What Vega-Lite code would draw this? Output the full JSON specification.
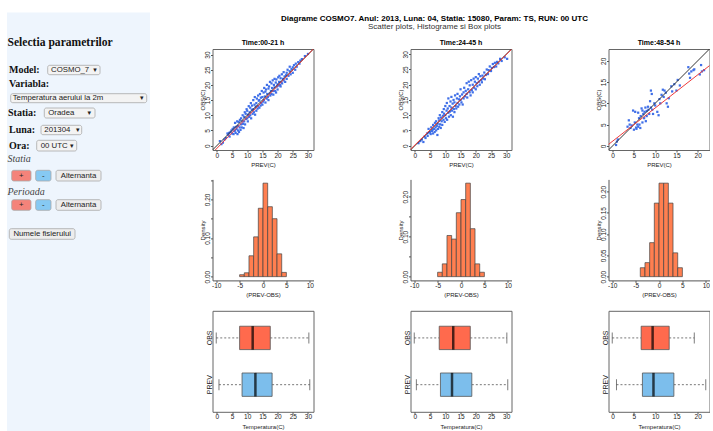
{
"$schema":"https://vega.github.io/schema/vega-lite/v6.json",
"background":"white",
"padding":{"left":7,"top":10,"right":0,"bottom":0},
"spacing":48.5,
"datasets":{
"formBox":[
{"kind":"bg","x0":0,"x1":143,"y0":0.5,"y1":421},
{"kind":"select","x0":40.7,"x1":93,"y0":53.3,"y1":62.7},
{"kind":"select","x0":3.7,"x1":139.7,"y0":81.7,"y1":90.7},
{"kind":"select","x0":37.3,"x1":88,"y0":96,"y1":106},
{"kind":"select","x0":34,"x1":74.7,"y0":113.3,"y1":122.7},
{"kind":"select","x0":29.7,"x1":69.7,"y0":128.3,"y1":139},
{"kind":"plus","x0":4.7,"x1":24,"y0":158.3,"y1":169},
{"kind":"minus","x0":28.7,"x1":44,"y0":158.3,"y1":169},
{"kind":"button","x0":49,"x1":94,"y0":158.3,"y1":169},
{"kind":"plus","x0":4.7,"x1":24,"y0":187.7,"y1":198.3},
{"kind":"minus","x0":28.7,"x1":44,"y0":187.7,"y1":198.3},
{"kind":"button","x0":49,"x1":94,"y0":187.7,"y1":198.3},
{"kind":"button","x0":2.3,"x1":68,"y0":216.7,"y1":227.3}
],
"formText":[
{"kind":"heading","t":"Selectia parametrilor","x":0.5,"y":31},
{"kind":"label","t":"Model:","x":2,"y":57.5},
{"kind":"label","t":"Variabla:","x":2,"y":71.5},
{"kind":"label","t":"Statia:","x":1,"y":101},
{"kind":"label","t":"Luna:","x":2,"y":117.5},
{"kind":"label","t":"Ora:","x":2,"y":134},
{"kind":"italic","t":"Statia","x":0.5,"y":147},
{"kind":"italic","t":"Perioada","x":0.5,"y":179.5},
{"kind":"ctrl","t":"COSMO_7","x":44,"y":58.2},
{"kind":"ctrl","t":"Temperatura aerului la 2m","x":5.7,"y":86.4},
{"kind":"ctrl","t":"Oradea","x":41.3,"y":101.2},
{"kind":"ctrl","t":"201304","x":37.3,"y":118.2},
{"kind":"ctrl","t":"00 UTC","x":33.7,"y":133.8},
{"kind":"arrow","t":"▾","x":88,"y":58},
{"kind":"arrow","t":"▾","x":134.7,"y":86.2},
{"kind":"arrow","t":"▾","x":82.3,"y":101},
{"kind":"arrow","t":"▾","x":70.7,"y":118},
{"kind":"arrow","t":"▾","x":64.7,"y":133.6},
{"kind":"btn","t":"+","x":14.3,"y":163.8},
{"kind":"btn","t":"-","x":36.3,"y":163.8},
{"kind":"btn","t":"Alternanta","x":71.5,"y":163.8},
{"kind":"btn","t":"+","x":14.3,"y":193.2},
{"kind":"btn","t":"-","x":36.3,"y":193.2},
{"kind":"btn","t":"Alternanta","x":71.5,"y":193.2},
{"kind":"btn","t":"Numele fisierului","x":35.2,"y":222.2}
],
"lines":[
{"panel":1,"kind":"ident","xa":-5,"ya":-5,"xb":40,"yb":40},
{"panel":1,"kind":"fit","xa":-5,"ya":-6.05,"xb":40,"yb":40.3},
{"panel":2,"kind":"ident","xa":-5,"ya":-5,"xb":40,"yb":40},
{"panel":2,"kind":"fit","xa":-5,"ya":-4.75,"xb":40,"yb":39.8},
{"panel":3,"kind":"ident","xa":-5,"ya":-5,"xb":40,"yb":40},
{"panel":3,"kind":"fit","xa":-5,"ya":-2.8,"xb":40,"yb":32.3}
],
"hist":[
{"panel":1,"lo":-5,"hi":-4,"density":0.005},{"panel":1,"lo":-4,"hi":-3,"density":0.01},{"panel":1,"lo":-3,"hi":-2,"density":0.054},{"panel":1,"lo":-2,"hi":-1,"density":0.103},{"panel":1,"lo":-1,"hi":0,"density":0.177},{"panel":1,"lo":0,"hi":1,"density":0.242},{"panel":1,"lo":1,"hi":2,"density":0.181},{"panel":1,"lo":2,"hi":3,"density":0.15},{"panel":1,"lo":3,"hi":4,"density":0.059},{"panel":1,"lo":4,"hi":5,"density":0.011},
{"panel":2,"lo":-5,"hi":-4,"density":0.011},{"panel":2,"lo":-4,"hi":-3,"density":0.032},{"panel":2,"lo":-3,"hi":-2,"density":0.103},{"panel":2,"lo":-2,"hi":-1,"density":0.094},{"panel":2,"lo":-1,"hi":0,"density":0.16},{"panel":2,"lo":0,"hi":1,"density":0.193},{"panel":2,"lo":1,"hi":2,"density":0.234},{"panel":2,"lo":2,"hi":3,"density":0.12},{"panel":2,"lo":3,"hi":4,"density":0.032},{"panel":2,"lo":4,"hi":5,"density":0.011},
{"panel":3,"lo":-4,"hi":-3,"density":0.021},{"panel":3,"lo":-3,"hi":-2,"density":0.033},{"panel":3,"lo":-2,"hi":-1,"density":0.08},{"panel":3,"lo":-1,"hi":0,"density":0.173},{"panel":3,"lo":0,"hi":1,"density":0.22},{"panel":3,"lo":1,"hi":2,"density":0.22},{"panel":3,"lo":2,"hi":3,"density":0.173},{"panel":3,"lo":3,"hi":4,"density":0.056},{"panel":3,"lo":4,"hi":5,"density":0.021}
],
"box":[
{"panel":1,"var":"OBS","min":-0.2,"q1":7.5,"med":11.8,"q3":17.6,"max":30.3},
{"panel":1,"var":"PREV","min":0.7,"q1":8.3,"med":12.7,"q3":18.2,"max":30.6},
{"panel":2,"var":"OBS","min":-0.2,"q1":8.0,"med":12.6,"q3":18.2,"max":30.2},
{"panel":2,"var":"PREV","min":0.5,"q1":8.4,"med":12.2,"q3":18.7,"max":30.5},
{"panel":3,"var":"OBS","min":-0.1,"q1":6.7,"med":9.4,"q3":13.3,"max":19.2},
{"panel":3,"var":"PREV","min":0.9,"q1":7.0,"med":9.6,"q3":14.4,"max":21.9}
],
"scatter":[
{"panel":1,"prev":1,"obs":1.5},{"panel":1,"prev":1.5,"obs":0.5},{"panel":1,"prev":2,"obs":1},{"panel":1,"prev":2.5,"obs":2},{"panel":1,"prev":3,"obs":2.5},{"panel":1,"prev":3.5,"obs":4},{"panel":1,"prev":3.8,"obs":3.5},{"panel":1,"prev":4,"obs":4.2},{"panel":1,"prev":4.2,"obs":3},{"panel":1,"prev":4.5,"obs":4.5},{"panel":1,"prev":4.8,"obs":5},{"panel":1,"prev":5,"obs":4},{"panel":1,"prev":5.2,"obs":5.5},{"panel":1,"prev":5.5,"obs":3.8},{"panel":1,"prev":5.6,"obs":6},{"panel":1,"prev":5.8,"obs":4.8},{"panel":1,"prev":6,"obs":5},{"panel":1,"prev":6,"obs":7.5},{"panel":1,"prev":6.2,"obs":4.2},{"panel":1,"prev":6.4,"obs":6.2},{"panel":1,"prev":6.5,"obs":5.5},{"panel":1,"prev":6.7,"obs":8},{"panel":1,"prev":6.8,"obs":3.8},{"panel":1,"prev":7,"obs":6.5},{"panel":1,"prev":7,"obs":5},{"panel":1,"prev":7.2,"obs":7.8},{"panel":1,"prev":7.3,"obs":4.5},{"panel":1,"prev":7.5,"obs":6},{"panel":1,"prev":7.6,"obs":8.5},{"panel":1,"prev":7.8,"obs":5.2},{"panel":1,"prev":8,"obs":7},{"panel":1,"prev":8,"obs":9},{"panel":1,"prev":8.2,"obs":6},{"panel":1,"prev":8.4,"obs":8},{"panel":1,"prev":8.5,"obs":10},{"panel":1,"prev":8.6,"obs":7.2},{"panel":1,"prev":8.8,"obs":5.8},{"panel":1,"prev":9,"obs":9.5},{"panel":1,"prev":9,"obs":8},{"panel":1,"prev":9.2,"obs":11},{"panel":1,"prev":9.3,"obs":7},{"panel":1,"prev":9.5,"obs":10.5},{"panel":1,"prev":9.6,"obs":8.8},{"panel":1,"prev":9.8,"obs":12},{"panel":1,"prev":10,"obs":9},{"panel":1,"prev":10,"obs":11.5},{"panel":1,"prev":10.2,"obs":8},{"panel":1,"prev":10.3,"obs":10.2},{"panel":1,"prev":10.5,"obs":13},{"panel":1,"prev":10.6,"obs":9.5},{"panel":1,"prev":10.8,"obs":11},{"panel":1,"prev":11,"obs":10},{"panel":1,"prev":11,"obs":12.5},{"panel":1,"prev":11.2,"obs":14},{"panel":1,"prev":11.3,"obs":9},{"panel":1,"prev":11.5,"obs":11.8},{"panel":1,"prev":11.6,"obs":13.2},{"panel":1,"prev":11.8,"obs":10.5},{"panel":1,"prev":12,"obs":12},{"panel":1,"prev":12,"obs":15},{"panel":1,"prev":12.2,"obs":11},{"panel":1,"prev":12.4,"obs":13.5},{"panel":1,"prev":12.5,"obs":16},{"panel":1,"prev":12.6,"obs":10.2},{"panel":1,"prev":12.8,"obs":12.8},{"panel":1,"prev":13,"obs":14},{"panel":1,"prev":13,"obs":11.5},{"panel":1,"prev":13.2,"obs":15.5},{"panel":1,"prev":13.4,"obs":12.2},{"panel":1,"prev":13.5,"obs":13},{"panel":1,"prev":13.6,"obs":16.5},{"panel":1,"prev":13.8,"obs":14.8},{"panel":1,"prev":14,"obs":12.5},{"panel":1,"prev":14,"obs":15},{"panel":1,"prev":14.2,"obs":17},{"panel":1,"prev":14.4,"obs":13.2},{"panel":1,"prev":14.5,"obs":15.8},{"panel":1,"prev":14.6,"obs":14},{"panel":1,"prev":14.8,"obs":18},{"panel":1,"prev":15,"obs":13.5},{"panel":1,"prev":15,"obs":16},{"panel":1,"prev":15.2,"obs":14.5},{"panel":1,"prev":15.4,"obs":17.5},{"panel":1,"prev":15.5,"obs":15},{"panel":1,"prev":15.6,"obs":19},{"panel":1,"prev":15.8,"obs":16.2},{"panel":1,"prev":16,"obs":14.2},{"panel":1,"prev":16,"obs":17.8},{"panel":1,"prev":16.2,"obs":18.5},{"panel":1,"prev":16.4,"obs":15.5},{"panel":1,"prev":16.5,"obs":20},{"panel":1,"prev":16.6,"obs":17},{"panel":1,"prev":16.8,"obs":16},{"panel":1,"prev":17,"obs":18.8},{"panel":1,"prev":17,"obs":15},{"panel":1,"prev":17.2,"obs":19.5},{"panel":1,"prev":17.4,"obs":17.2},{"panel":1,"prev":17.5,"obs":21},{"panel":1,"prev":17.6,"obs":16.5},{"panel":1,"prev":17.8,"obs":18},{"panel":1,"prev":18,"obs":20.5},{"panel":1,"prev":18,"obs":17},{"panel":1,"prev":18.2,"obs":19},{"panel":1,"prev":18.4,"obs":21.5},{"panel":1,"prev":18.5,"obs":18},{"panel":1,"prev":18.6,"obs":16.8},{"panel":1,"prev":18.8,"obs":20},{"panel":1,"prev":19,"obs":19.2},{"panel":1,"prev":19,"obs":22},{"panel":1,"prev":19.2,"obs":18},{"panel":1,"prev":19.4,"obs":20.8},{"panel":1,"prev":19.5,"obs":17.5},{"panel":1,"prev":19.6,"obs":21.8},{"panel":1,"prev":19.8,"obs":19.5},{"panel":1,"prev":20,"obs":20.2},{"panel":1,"prev":20,"obs":18.5},{"panel":1,"prev":20.2,"obs":22.5},{"panel":1,"prev":20.4,"obs":19.8},{"panel":1,"prev":20.5,"obs":21},{"panel":1,"prev":20.6,"obs":23},{"panel":1,"prev":20.8,"obs":20},{"panel":1,"prev":21,"obs":19.5},{"panel":1,"prev":21,"obs":22.2},{"panel":1,"prev":21.2,"obs":21},{"panel":1,"prev":21.4,"obs":23.5},{"panel":1,"prev":21.5,"obs":20.5},{"panel":1,"prev":21.8,"obs":22},{"panel":1,"prev":22,"obs":21.5},{"panel":1,"prev":22,"obs":24.2},{"panel":1,"prev":22.3,"obs":22.8},{"panel":1,"prev":22.5,"obs":21},{"panel":1,"prev":22.8,"obs":23.2},{"panel":1,"prev":23,"obs":24},{"panel":1,"prev":23,"obs":22},{"panel":1,"prev":23.3,"obs":25},{"panel":1,"prev":23.6,"obs":23},{"panel":1,"prev":24,"obs":24.5},{"panel":1,"prev":24,"obs":26},{"panel":1,"prev":24.3,"obs":23.5},{"panel":1,"prev":24.6,"obs":25.2},{"panel":1,"prev":25,"obs":25.8},{"panel":1,"prev":25,"obs":24},{"panel":1,"prev":25.4,"obs":26.5},{"panel":1,"prev":25.8,"obs":25},{"panel":1,"prev":26,"obs":27},{"panel":1,"prev":26.3,"obs":26},{"panel":1,"prev":26.8,"obs":27.5},{"panel":1,"prev":27.2,"obs":27},{"panel":1,"prev":27.5,"obs":28},{"panel":1,"prev":28,"obs":28.5},{"panel":1,"prev":29,"obs":29.5},{"panel":1,"prev":30,"obs":30.2},
{"panel":2,"prev":1.2,"obs":0.8},{"panel":2,"prev":1.8,"obs":1.5},{"panel":2,"prev":2.3,"obs":2},{"panel":2,"prev":2.8,"obs":1.2},{"panel":2,"prev":3.2,"obs":3},{"panel":2,"prev":3.5,"obs":2.5},{"panel":2,"prev":4,"obs":4},{"panel":2,"prev":4.2,"obs":3.2},{"panel":2,"prev":4.5,"obs":5.5},{"panel":2,"prev":4.6,"obs":4.3},{"panel":2,"prev":5,"obs":4.5},{"panel":2,"prev":5.2,"obs":3.8},{"panel":2,"prev":5.4,"obs":6},{"panel":2,"prev":5.6,"obs":4.8},{"panel":2,"prev":5.8,"obs":5.2},{"panel":2,"prev":6,"obs":4},{"panel":2,"prev":6,"obs":6.8},{"panel":2,"prev":6.3,"obs":5.5},{"panel":2,"prev":6.5,"obs":4.5},{"panel":2,"prev":6.6,"obs":7.5},{"panel":2,"prev":6.8,"obs":6},{"panel":2,"prev":7,"obs":5},{"panel":2,"prev":7,"obs":8},{"panel":2,"prev":7.2,"obs":6.5},{"panel":2,"prev":7.4,"obs":3.5},{"panel":2,"prev":7.5,"obs":7.2},{"panel":2,"prev":7.6,"obs":5.5},{"panel":2,"prev":7.8,"obs":9},{"panel":2,"prev":8,"obs":6.2},{"panel":2,"prev":8,"obs":8.3},{"panel":2,"prev":8.2,"obs":10},{"panel":2,"prev":8.3,"obs":7},{"panel":2,"prev":8.5,"obs":5.8},{"panel":2,"prev":8.6,"obs":9.2},{"panel":2,"prev":8.8,"obs":8},{"panel":2,"prev":9,"obs":11},{"panel":2,"prev":9,"obs":6.8},{"panel":2,"prev":9.2,"obs":9.8},{"panel":2,"prev":9.4,"obs":8.5},{"panel":2,"prev":9.5,"obs":12},{"panel":2,"prev":9.6,"obs":10.5},{"panel":2,"prev":9.8,"obs":7.8},{"panel":2,"prev":10,"obs":10},{"panel":2,"prev":10,"obs":13},{"panel":2,"prev":10.2,"obs":9},{"panel":2,"prev":10.4,"obs":11.5},{"panel":2,"prev":10.5,"obs":14},{"panel":2,"prev":10.6,"obs":8.5},{"panel":2,"prev":10.8,"obs":12.2},{"panel":2,"prev":11,"obs":10.8},{"panel":2,"prev":11,"obs":15.5},{"panel":2,"prev":11.2,"obs":9.5},{"panel":2,"prev":11.4,"obs":13},{"panel":2,"prev":11.5,"obs":11.2},{"panel":2,"prev":11.7,"obs":14.5},{"panel":2,"prev":11.8,"obs":10},{"panel":2,"prev":12,"obs":12.5},{"panel":2,"prev":12,"obs":16},{"panel":2,"prev":12.2,"obs":11.5},{"panel":2,"prev":12.4,"obs":13.8},{"panel":2,"prev":12.5,"obs":9.5},{"panel":2,"prev":12.7,"obs":15},{"panel":2,"prev":12.8,"obs":12},{"panel":2,"prev":13,"obs":14.2},{"panel":2,"prev":13,"obs":11},{"panel":2,"prev":13.2,"obs":16.5},{"panel":2,"prev":13.4,"obs":13},{"panel":2,"prev":13.6,"obs":12.2},{"panel":2,"prev":13.8,"obs":15.5},{"panel":2,"prev":14,"obs":14},{"panel":2,"prev":14,"obs":17},{"panel":2,"prev":14.2,"obs":12.8},{"panel":2,"prev":14.5,"obs":15.2},{"panel":2,"prev":14.6,"obs":13.5},{"panel":2,"prev":14.8,"obs":16.2},{"panel":2,"prev":15,"obs":15},{"panel":2,"prev":15,"obs":18.5},{"panel":2,"prev":15.3,"obs":14.2},{"panel":2,"prev":15.5,"obs":16.8},{"panel":2,"prev":15.7,"obs":13.5},{"panel":2,"prev":16,"obs":17.5},{"panel":2,"prev":16,"obs":15.5},{"panel":2,"prev":16.2,"obs":19},{"panel":2,"prev":16.5,"obs":16.2},{"panel":2,"prev":16.7,"obs":18},{"panel":2,"prev":17,"obs":17},{"panel":2,"prev":17,"obs":20.5},{"panel":2,"prev":17.2,"obs":15.8},{"panel":2,"prev":17.5,"obs":18.5},{"panel":2,"prev":17.7,"obs":21},{"panel":2,"prev":18,"obs":17.5},{"panel":2,"prev":18,"obs":19.8},{"panel":2,"prev":18.3,"obs":16.5},{"panel":2,"prev":18.5,"obs":21.5},{"panel":2,"prev":18.7,"obs":18.2},{"panel":2,"prev":19,"obs":20},{"panel":2,"prev":19,"obs":17.5},{"panel":2,"prev":19.3,"obs":22},{"panel":2,"prev":19.5,"obs":19},{"panel":2,"prev":19.7,"obs":21},{"panel":2,"prev":20,"obs":18.5},{"panel":2,"prev":20,"obs":22.5},{"panel":2,"prev":20.3,"obs":20.5},{"panel":2,"prev":20.5,"obs":19.5},{"panel":2,"prev":20.7,"obs":22},{"panel":2,"prev":21,"obs":21},{"panel":2,"prev":21,"obs":23.5},{"panel":2,"prev":21.3,"obs":20},{"panel":2,"prev":21.5,"obs":22.8},{"panel":2,"prev":21.8,"obs":21.5},{"panel":2,"prev":22,"obs":20.8},{"panel":2,"prev":22.2,"obs":23},{"panel":2,"prev":22.5,"obs":22},{"panel":2,"prev":22.8,"obs":24},{"panel":2,"prev":23,"obs":21.8},{"panel":2,"prev":23.3,"obs":23.2},{"panel":2,"prev":23.6,"obs":25},{"panel":2,"prev":24,"obs":23.5},{"panel":2,"prev":24.2,"obs":24.8},{"panel":2,"prev":24.6,"obs":26},{"panel":2,"prev":25,"obs":24.5},{"panel":2,"prev":25.3,"obs":25.5},{"panel":2,"prev":25.6,"obs":26.8},{"panel":2,"prev":26,"obs":25.8},{"panel":2,"prev":26.3,"obs":27.2},{"panel":2,"prev":26.7,"obs":26},{"panel":2,"prev":27,"obs":27.5},{"panel":2,"prev":27.4,"obs":27},{"panel":2,"prev":28,"obs":28.5},{"panel":2,"prev":28.5,"obs":27.8},{"panel":2,"prev":29.5,"obs":29},{"panel":2,"prev":30.3,"obs":28.5},
{"panel":3,"prev":0.8,"obs":0.2},{"panel":3,"prev":1,"obs":1},{"panel":3,"prev":1.2,"obs":1.5},{"panel":3,"prev":3.5,"obs":4.5},{"panel":3,"prev":3.8,"obs":6},{"panel":3,"prev":4,"obs":5},{"panel":3,"prev":4.2,"obs":4.2},{"panel":3,"prev":4.5,"obs":4.8},{"panel":3,"prev":4.8,"obs":8.3},{"panel":3,"prev":5,"obs":3.8},{"panel":3,"prev":5.2,"obs":5.5},{"panel":3,"prev":5.3,"obs":8},{"panel":3,"prev":5.5,"obs":4.3},{"panel":3,"prev":5.6,"obs":4},{"panel":3,"prev":5.8,"obs":5},{"panel":3,"prev":6,"obs":4.5},{"panel":3,"prev":6,"obs":7.8},{"panel":3,"prev":6.2,"obs":6.5},{"panel":3,"prev":6.3,"obs":5},{"panel":3,"prev":6.5,"obs":4.2},{"panel":3,"prev":6.6,"obs":7},{"panel":3,"prev":6.8,"obs":8.8},{"panel":3,"prev":7,"obs":5.5},{"panel":3,"prev":7,"obs":8.3},{"panel":3,"prev":7.2,"obs":7.5},{"panel":3,"prev":7.4,"obs":6.5},{"panel":3,"prev":7.5,"obs":8},{"panel":3,"prev":7.7,"obs":9},{"panel":3,"prev":7.8,"obs":5.8},{"panel":3,"prev":8,"obs":8.2},{"panel":3,"prev":8,"obs":7},{"panel":3,"prev":8.3,"obs":9.2},{"panel":3,"prev":8.4,"obs":8.5},{"panel":3,"prev":8.6,"obs":7.5},{"panel":3,"prev":8.8,"obs":10.5},{"panel":3,"prev":9,"obs":13},{"panel":3,"prev":9,"obs":9},{"panel":3,"prev":9.2,"obs":12.2},{"panel":3,"prev":9.3,"obs":8.5},{"panel":3,"prev":9.5,"obs":7.5},{"panel":3,"prev":9.8,"obs":10},{"panel":3,"prev":10,"obs":9.5},{"panel":3,"prev":10.5,"obs":8},{"panel":3,"prev":10.8,"obs":7.2},{"panel":3,"prev":11,"obs":11},{"panel":3,"prev":11.2,"obs":10},{"panel":3,"prev":11.5,"obs":12},{"panel":3,"prev":11.8,"obs":13.2},{"panel":3,"prev":12,"obs":11.5},{"panel":3,"prev":12.2,"obs":13},{"panel":3,"prev":12.5,"obs":12.5},{"panel":3,"prev":12.7,"obs":10},{"panel":3,"prev":13,"obs":9.2},{"panel":3,"prev":13.2,"obs":11.2},{"panel":3,"prev":13.8,"obs":14},{"panel":3,"prev":14,"obs":12.8},{"panel":3,"prev":14.5,"obs":14.5},{"panel":3,"prev":15,"obs":13},{"panel":3,"prev":15.3,"obs":15.5},{"panel":3,"prev":15.8,"obs":14.2},{"panel":3,"prev":17.8,"obs":18.5},{"panel":3,"prev":18,"obs":17},{"panel":3,"prev":18.2,"obs":16},{"panel":3,"prev":18.5,"obs":17.5},{"panel":3,"prev":19,"obs":17.8},{"panel":3,"prev":19.2,"obs":18},{"panel":3,"prev":20.5,"obs":16.8},{"panel":3,"prev":20.8,"obs":19},{"panel":3,"prev":21,"obs":17.5},{"panel":3,"prev":21.5,"obs":17.8}
]
},
"hconcat":[
{
"width":143,"height":384,
"view":{"stroke":null},
"layer":[
{"data":{"name":"formBox"},"transform":[{"filter":"datum.kind=='bg'"}],"mark":{"type":"rect","color":"#EEF5FD"},
"encoding":{"x":{"field":"x0","type":"quantitative","scale":{"domain":[0,143],"nice":false,"zero":false},"axis":null},"x2":{"field":"x1"},
"y":{"field":"y0","type":"quantitative","scale":{"domain":[37,421],"reverse":true,"nice":false,"zero":false},"axis":null},"y2":{"field":"y1"}}},
{"data":{"name":"formBox"},"transform":[{"filter":"datum.kind!='bg'"}],"mark":{"type":"rect","cornerRadius":2,"stroke":"#A8A8A8","strokeWidth":0.8},
"encoding":{"x":{"field":"x0","type":"quantitative","scale":{"domain":[0,143],"nice":false,"zero":false},"axis":null},"x2":{"field":"x1"},
"y":{"field":"y0","type":"quantitative","scale":{"domain":[37,421],"reverse":true,"nice":false,"zero":false},"axis":null},"y2":{"field":"y1"},
"fill":{"field":"kind","type":"nominal","scale":{"domain":["select","button","plus","minus"],"range":["#F3F3F3","#EDEDED","#F4837A","#86C9F3"]},"legend":null}}},
{"data":{"name":"formText"},"transform":[{"filter":"datum.kind=='heading'"}],"mark":{"type":"text","align":"left","baseline":"middle","font":"Liberation Serif","fontWeight":"bold","fontSize":11.6,"color":"#111"},
"encoding":{"x":{"field":"x","type":"quantitative","scale":{"domain":[0,143],"nice":false,"zero":false},"axis":null},"y":{"field":"y","type":"quantitative","scale":{"domain":[37,421],"reverse":true,"nice":false,"zero":false},"axis":null},"text":{"field":"t"}}},
{"data":{"name":"formText"},"transform":[{"filter":"datum.kind=='label'"}],"mark":{"type":"text","align":"left","baseline":"middle","font":"Liberation Serif","fontWeight":"bold","fontSize":10,"color":"#111"},
"encoding":{"x":{"field":"x","type":"quantitative","scale":{"domain":[0,143],"nice":false,"zero":false},"axis":null},"y":{"field":"y","type":"quantitative","scale":{"domain":[37,421],"reverse":true,"nice":false,"zero":false},"axis":null},"text":{"field":"t"}}},
{"data":{"name":"formText"},"transform":[{"filter":"datum.kind=='italic'"}],"mark":{"type":"text","align":"left","baseline":"middle","font":"Liberation Serif","fontStyle":"italic","fontSize":10,"color":"#444"},
"encoding":{"x":{"field":"x","type":"quantitative","scale":{"domain":[0,143],"nice":false,"zero":false},"axis":null},"y":{"field":"y","type":"quantitative","scale":{"domain":[37,421],"reverse":true,"nice":false,"zero":false},"axis":null},"text":{"field":"t"}}},
{"data":{"name":"formText"},"transform":[{"filter":"datum.kind=='ctrl'"}],"mark":{"type":"text","align":"left","baseline":"middle","font":"Liberation Sans","fontSize":7.8,"color":"#222"},
"encoding":{"x":{"field":"x","type":"quantitative","scale":{"domain":[0,143],"nice":false,"zero":false},"axis":null},"y":{"field":"y","type":"quantitative","scale":{"domain":[37,421],"reverse":true,"nice":false,"zero":false},"axis":null},"text":{"field":"t"}}},
{"data":{"name":"formText"},"transform":[{"filter":"datum.kind=='btn'"}],"mark":{"type":"text","align":"center","baseline":"middle","font":"Liberation Sans","fontSize":7.8,"color":"#222"},
"encoding":{"x":{"field":"x","type":"quantitative","scale":{"domain":[0,143],"nice":false,"zero":false},"axis":null},"y":{"field":"y","type":"quantitative","scale":{"domain":[37,421],"reverse":true,"nice":false,"zero":false},"axis":null},"text":{"field":"t"}}},
{"data":{"name":"formText"},"transform":[{"filter":"datum.kind=='arrow'"}],"mark":{"type":"text","align":"center","baseline":"middle","font":"DejaVu Sans","fontSize":7,"color":"#222"},
"encoding":{"x":{"field":"x","type":"quantitative","scale":{"domain":[0,143],"nice":false,"zero":false},"axis":null},"y":{"field":"y","type":"quantitative","scale":{"domain":[37,421],"reverse":true,"nice":false,"zero":false},"axis":null},"text":{"field":"t"}}}
]
},
{
"title":{"text":["","Diagrame COSMO7. Anul: 2013, Luna: 04, Statia: 15080, Param: TS, RUN: 00 UTC"],"subtitle":"Scatter plots, Histograme si Box plots","anchor":"middle","dx":-20,"fontSize":8,"lineHeight":4,"subtitleFontSize":8,"subtitlePadding":0,"offset":8,"subtitleColor":"#333","subtitleFont":"Liberation Sans"},
"columns":3,
"spacing":{"row":11.4,"column":82},
"concat":[
{"title":"Time:00-21 h","width":101,"height":101,"view":{"stroke":"#666"},
"layer":[
{"data":{"name":"scatter"},"transform":[{"filter":"datum.panel==1"}],"mark":{"type":"square","size":5,"color":"#3F6FE8","opacity":1},
"encoding":{"x":{"field":"prev","type":"quantitative","scale":{"domain":[-1.43,31.83],"nice":false,"zero":false},"axis":{"title":"PREV(C)","values":[0,5,10,15,20,25,30],"domain":false}},
"y":{"field":"obs","type":"quantitative","scale":{"domain":[-1.43,31.83],"nice":false,"zero":false},"axis":{"title":"OBS(C)","values":[0,5,10,15,20,25,30],"domain":false}}}},
{"data":{"name":"lines"},"transform":[{"filter":"datum.panel==1 && datum.kind=='ident'"}],"mark":{"type":"rule","clip":true,"color":"#333","strokeWidth":1},
"encoding":{"x":{"field":"xa","type":"quantitative","scale":{"domain":[-1.43,31.83],"nice":false,"zero":false},"axis":{"title":"PREV(C)","values":[0,5,10,15,20,25,30],"domain":false}},"x2":{"field":"xb"},
"y":{"field":"ya","type":"quantitative","scale":{"domain":[-1.43,31.83],"nice":false,"zero":false},"axis":{"title":"OBS(C)","values":[0,5,10,15,20,25,30],"domain":false}},"y2":{"field":"yb"}}},
{"data":{"name":"lines"},"transform":[{"filter":"datum.panel==1 && datum.kind=='fit'"}],"mark":{"type":"rule","clip":true,"color":"#EE3B3B","strokeWidth":1},
"encoding":{"x":{"field":"xa","type":"quantitative","scale":{"domain":[-1.43,31.83],"nice":false,"zero":false},"axis":{"title":"PREV(C)","values":[0,5,10,15,20,25,30],"domain":false}},"x2":{"field":"xb"},
"y":{"field":"ya","type":"quantitative","scale":{"domain":[-1.43,31.83],"nice":false,"zero":false},"axis":{"title":"OBS(C)","values":[0,5,10,15,20,25,30],"domain":false}},"y2":{"field":"yb"}}}
]},
{"title":"Time:24-45 h","width":101,"height":101,"view":{"stroke":"#666"},
"layer":[
{"data":{"name":"scatter"},"transform":[{"filter":"datum.panel==2"}],"mark":{"type":"square","size":5,"color":"#3F6FE8","opacity":1},
"encoding":{"x":{"field":"prev","type":"quantitative","scale":{"domain":[-1.43,31.73],"nice":false,"zero":false},"axis":{"title":"PREV(C)","values":[0,5,10,15,20,25,30],"domain":false}},
"y":{"field":"obs","type":"quantitative","scale":{"domain":[-1.43,31.73],"nice":false,"zero":false},"axis":{"title":"OBS(C)","values":[0,5,10,15,20,25,30],"domain":false}}}},
{"data":{"name":"lines"},"transform":[{"filter":"datum.panel==2 && datum.kind=='ident'"}],"mark":{"type":"rule","clip":true,"color":"#333","strokeWidth":1},
"encoding":{"x":{"field":"xa","type":"quantitative","scale":{"domain":[-1.43,31.73],"nice":false,"zero":false},"axis":{"title":"PREV(C)","values":[0,5,10,15,20,25,30],"domain":false}},"x2":{"field":"xb"},
"y":{"field":"ya","type":"quantitative","scale":{"domain":[-1.43,31.73],"nice":false,"zero":false},"axis":{"title":"OBS(C)","values":[0,5,10,15,20,25,30],"domain":false}},"y2":{"field":"yb"}}},
{"data":{"name":"lines"},"transform":[{"filter":"datum.panel==2 && datum.kind=='fit'"}],"mark":{"type":"rule","clip":true,"color":"#EE3B3B","strokeWidth":1},
"encoding":{"x":{"field":"xa","type":"quantitative","scale":{"domain":[-1.43,31.73],"nice":false,"zero":false},"axis":{"title":"PREV(C)","values":[0,5,10,15,20,25,30],"domain":false}},"x2":{"field":"xb"},
"y":{"field":"ya","type":"quantitative","scale":{"domain":[-1.43,31.73],"nice":false,"zero":false},"axis":{"title":"OBS(C)","values":[0,5,10,15,20,25,30],"domain":false}},"y2":{"field":"yb"}}}
]},
{"title":"Time:48-54 h","width":101,"height":101,"view":{"stroke":"#666"},
"layer":[
{"data":{"name":"scatter"},"transform":[{"filter":"datum.panel==3"}],"mark":{"type":"square","size":5,"color":"#3F6FE8","opacity":1},
"encoding":{"x":{"field":"prev","type":"quantitative","scale":{"domain":[-0.98,22.78],"nice":false,"zero":false},"axis":{"title":"PREV(C)","values":[0,5,10,15,20],"domain":false}},
"y":{"field":"obs","type":"quantitative","scale":{"domain":[-0.98,22.78],"nice":false,"zero":false},"axis":{"title":"OBS(C)","values":[0,5,10,15,20],"domain":false}}}},
{"data":{"name":"lines"},"transform":[{"filter":"datum.panel==3 && datum.kind=='ident'"}],"mark":{"type":"rule","clip":true,"color":"#333","strokeWidth":1},
"encoding":{"x":{"field":"xa","type":"quantitative","scale":{"domain":[-0.98,22.78],"nice":false,"zero":false},"axis":{"title":"PREV(C)","values":[0,5,10,15,20],"domain":false}},"x2":{"field":"xb"},
"y":{"field":"ya","type":"quantitative","scale":{"domain":[-0.98,22.78],"nice":false,"zero":false},"axis":{"title":"OBS(C)","values":[0,5,10,15,20],"domain":false}},"y2":{"field":"yb"}}},
{"data":{"name":"lines"},"transform":[{"filter":"datum.panel==3 && datum.kind=='fit'"}],"mark":{"type":"rule","clip":true,"color":"#EE3B3B","strokeWidth":1},
"encoding":{"x":{"field":"xa","type":"quantitative","scale":{"domain":[-0.98,22.78],"nice":false,"zero":false},"axis":{"title":"PREV(C)","values":[0,5,10,15,20],"domain":false}},"x2":{"field":"xb"},
"y":{"field":"ya","type":"quantitative","scale":{"domain":[-0.98,22.78],"nice":false,"zero":false},"axis":{"title":"OBS(C)","values":[0,5,10,15,20],"domain":false}},"y2":{"field":"yb"}}}
]},
{"width":101,"height":101,"data":{"name":"hist"},"transform":[{"filter":"datum.panel==1"}],
"mark":{"type":"bar","color":"#FF7F50","stroke":"#444","strokeWidth":0.7},
"encoding":{"x":{"field":"lo","type":"quantitative","scale":{"domain":[-10.8,10.8],"nice":false,"zero":false},"axis":{"title":"(PREV-OBS)","values":[-10,-5,0,5,10],"labelExpr":"toString(datum.value)"}},"x2":{"field":"hi"},
"y":{"field":"density","type":"quantitative","scale":{"domain":[-0.0097,0.2517],"nice":false,"zero":false},"axis":{"title":"Density","values":[0,0.05,0.1,0.15,0.2,0.25],"labelExpr":"round(datum.value*100)%10==0 ? format(datum.value,'.2f') : ''"}},"y2":{"datum":0}}},
{"width":101,"height":101,"data":{"name":"hist"},"transform":[{"filter":"datum.panel==2"}],
"mark":{"type":"bar","color":"#FF7F50","stroke":"#444","strokeWidth":0.7},
"encoding":{"x":{"field":"lo","type":"quantitative","scale":{"domain":[-10.8,10.8],"nice":false,"zero":false},"axis":{"title":"(PREV-OBS)","values":[-10,-5,0,5,10],"labelExpr":"toString(datum.value)"}},"x2":{"field":"hi"},
"y":{"field":"density","type":"quantitative","scale":{"domain":[-0.0094,0.2434],"nice":false,"zero":false},"axis":{"title":"Density","values":[0,0.05,0.1,0.15,0.2],"labelExpr":"round(datum.value*100)%10==0 ? format(datum.value,'.2f') : ''"}},"y2":{"datum":0}}},
{"width":101,"height":101,"data":{"name":"hist"},"transform":[{"filter":"datum.panel==3"}],
"mark":{"type":"bar","color":"#FF7F50","stroke":"#444","strokeWidth":0.7},
"encoding":{"x":{"field":"lo","type":"quantitative","scale":{"domain":[-10.8,10.8],"nice":false,"zero":false},"axis":{"title":"(PREV-OBS)","values":[-10,-5,0,5,10],"labelExpr":"toString(datum.value)"}},"x2":{"field":"hi"},
"y":{"field":"density","type":"quantitative","scale":{"domain":[-0.0088,0.2288],"nice":false,"zero":false},"axis":{"title":"Density","values":[0,0.05,0.1,0.15,0.2],"format":".2f"}},"y2":{"datum":0}}},
{"width":101,"height":101,"view":{"stroke":"#666"},"data":{"name":"box"},"transform":[{"filter":"datum.panel==1"}],
"encoding":{"y":{"field":"var","type":"nominal","scale":{"domain":["OBS","PREV"],"paddingInner":0.5,"paddingOuter":0.33},"axis":{"title":null,"ticks":false,"tickSize":0,"labelPadding":1,"labelFontSize":7,"domain":false}}},
"layer":[
{"mark":{"type":"rule","strokeDash":[2,2],"color":"#555","strokeWidth":0.8},"encoding":{"x":{"field":"min","type":"quantitative","scale":{"domain":[-1.43,31.83],"nice":false,"zero":false},"axis":{"title":"Temperatura(C)","values":[0,5,10,15,20,25,30],"domain":false}},"x2":{"field":"q1"}}},
{"mark":{"type":"rule","strokeDash":[2,2],"color":"#555","strokeWidth":0.8},"encoding":{"x":{"field":"q3","type":"quantitative","scale":{"domain":[-1.43,31.83],"nice":false,"zero":false},"axis":{"title":"Temperatura(C)","values":[0,5,10,15,20,25,30],"domain":false}},"x2":{"field":"max"}}},
{"mark":{"type":"bar","stroke":"#555","strokeWidth":0.8},"encoding":{"x":{"field":"q1","type":"quantitative","scale":{"domain":[-1.43,31.83],"nice":false,"zero":false},"axis":{"title":"Temperatura(C)","values":[0,5,10,15,20,25,30],"domain":false}},"x2":{"field":"q3"},"color":{"field":"var","type":"nominal","scale":{"domain":["OBS","PREV"],"range":["#FF6A4D","#7CBEEC"]},"legend":null}}},
{"mark":{"type":"tick","orient":"vertical","thickness":2.5,"size":23.6,"color":"#000"},"encoding":{"x":{"field":"med","type":"quantitative","scale":{"domain":[-1.43,31.83],"nice":false,"zero":false},"axis":{"title":"Temperatura(C)","values":[0,5,10,15,20,25,30],"domain":false}}}},
{"mark":{"type":"tick","orient":"vertical","thickness":1,"size":11,"color":"#444"},"encoding":{"x":{"field":"min","type":"quantitative","scale":{"domain":[-1.43,31.83],"nice":false,"zero":false},"axis":{"title":"Temperatura(C)","values":[0,5,10,15,20,25,30],"domain":false}}}},
{"mark":{"type":"tick","orient":"vertical","thickness":1,"size":11,"color":"#444"},"encoding":{"x":{"field":"max","type":"quantitative","scale":{"domain":[-1.43,31.83],"nice":false,"zero":false},"axis":{"title":"Temperatura(C)","values":[0,5,10,15,20,25,30],"domain":false}}}}
]},
{"width":101,"height":101,"view":{"stroke":"#666"},"data":{"name":"box"},"transform":[{"filter":"datum.panel==2"}],
"encoding":{"y":{"field":"var","type":"nominal","scale":{"domain":["OBS","PREV"],"paddingInner":0.5,"paddingOuter":0.33},"axis":{"title":null,"ticks":false,"tickSize":0,"labelPadding":1,"labelFontSize":7,"domain":false}}},
"layer":[
{"mark":{"type":"rule","strokeDash":[2,2],"color":"#555","strokeWidth":0.8},"encoding":{"x":{"field":"min","type":"quantitative","scale":{"domain":[-1.43,31.73],"nice":false,"zero":false},"axis":{"title":"Temperatura(C)","values":[0,5,10,15,20,25,30],"domain":false}},"x2":{"field":"q1"}}},
{"mark":{"type":"rule","strokeDash":[2,2],"color":"#555","strokeWidth":0.8},"encoding":{"x":{"field":"q3","type":"quantitative","scale":{"domain":[-1.43,31.73],"nice":false,"zero":false},"axis":{"title":"Temperatura(C)","values":[0,5,10,15,20,25,30],"domain":false}},"x2":{"field":"max"}}},
{"mark":{"type":"bar","stroke":"#555","strokeWidth":0.8},"encoding":{"x":{"field":"q1","type":"quantitative","scale":{"domain":[-1.43,31.73],"nice":false,"zero":false},"axis":{"title":"Temperatura(C)","values":[0,5,10,15,20,25,30],"domain":false}},"x2":{"field":"q3"},"color":{"field":"var","type":"nominal","scale":{"domain":["OBS","PREV"],"range":["#FF6A4D","#7CBEEC"]},"legend":null}}},
{"mark":{"type":"tick","orient":"vertical","thickness":2.5,"size":23.6,"color":"#000"},"encoding":{"x":{"field":"med","type":"quantitative","scale":{"domain":[-1.43,31.73],"nice":false,"zero":false},"axis":{"title":"Temperatura(C)","values":[0,5,10,15,20,25,30],"domain":false}}}},
{"mark":{"type":"tick","orient":"vertical","thickness":1,"size":11,"color":"#444"},"encoding":{"x":{"field":"min","type":"quantitative","scale":{"domain":[-1.43,31.73],"nice":false,"zero":false},"axis":{"title":"Temperatura(C)","values":[0,5,10,15,20,25,30],"domain":false}}}},
{"mark":{"type":"tick","orient":"vertical","thickness":1,"size":11,"color":"#444"},"encoding":{"x":{"field":"max","type":"quantitative","scale":{"domain":[-1.43,31.73],"nice":false,"zero":false},"axis":{"title":"Temperatura(C)","values":[0,5,10,15,20,25,30],"domain":false}}}}
]},
{"width":101,"height":101,"view":{"stroke":"#666"},"data":{"name":"box"},"transform":[{"filter":"datum.panel==3"}],
"encoding":{"y":{"field":"var","type":"nominal","scale":{"domain":["OBS","PREV"],"paddingInner":0.5,"paddingOuter":0.33},"axis":{"title":null,"ticks":false,"tickSize":0,"labelPadding":1,"labelFontSize":7,"domain":false}}},
"layer":[
{"mark":{"type":"rule","strokeDash":[2,2],"color":"#555","strokeWidth":0.8},"encoding":{"x":{"field":"min","type":"quantitative","scale":{"domain":[-0.98,22.78],"nice":false,"zero":false},"axis":{"title":"Temperatura(C)","values":[0,5,10,15,20],"domain":false}},"x2":{"field":"q1"}}},
{"mark":{"type":"rule","strokeDash":[2,2],"color":"#555","strokeWidth":0.8},"encoding":{"x":{"field":"q3","type":"quantitative","scale":{"domain":[-0.98,22.78],"nice":false,"zero":false},"axis":{"title":"Temperatura(C)","values":[0,5,10,15,20],"domain":false}},"x2":{"field":"max"}}},
{"mark":{"type":"bar","stroke":"#555","strokeWidth":0.8},"encoding":{"x":{"field":"q1","type":"quantitative","scale":{"domain":[-0.98,22.78],"nice":false,"zero":false},"axis":{"title":"Temperatura(C)","values":[0,5,10,15,20],"domain":false}},"x2":{"field":"q3"},"color":{"field":"var","type":"nominal","scale":{"domain":["OBS","PREV"],"range":["#FF6A4D","#7CBEEC"]},"legend":null}}},
{"mark":{"type":"tick","orient":"vertical","thickness":2.5,"size":23.6,"color":"#000"},"encoding":{"x":{"field":"med","type":"quantitative","scale":{"domain":[-0.98,22.78],"nice":false,"zero":false},"axis":{"title":"Temperatura(C)","values":[0,5,10,15,20],"domain":false}}}},
{"mark":{"type":"tick","orient":"vertical","thickness":1,"size":11,"color":"#444"},"encoding":{"x":{"field":"min","type":"quantitative","scale":{"domain":[-0.98,22.78],"nice":false,"zero":false},"axis":{"title":"Temperatura(C)","values":[0,5,10,15,20],"domain":false}}}},
{"mark":{"type":"tick","orient":"vertical","thickness":1,"size":11,"color":"#444"},"encoding":{"x":{"field":"max","type":"quantitative","scale":{"domain":[-0.98,22.78],"nice":false,"zero":false},"axis":{"title":"Temperatura(C)","values":[0,5,10,15,20],"domain":false}}}}
]}
]
}
],
"config":{
"font":"Liberation Sans",
"view":{"stroke":null},
"axis":{"labelFont":"Liberation Sans","titleFont":"Liberation Sans","labelFontSize":6.5,"titleFontSize":6,"titleFontWeight":"normal","labelColor":"#222","titleColor":"#222","tickColor":"#555","domainColor":"#555","tickSize":2,"labelPadding":0,"grid":false,"titlePadding":3,"labelFlush":false,"labelOverlap":false},
"axisY":{"labelAngle":270,"labelAlign":"center","labelBaseline":"alphabetic","labelPadding":1,"minExtent":5,"maxExtent":5,"titlePadding":3,"titleBaseline":"alphabetic"},
"title":{"font":"Liberation Sans","fontSize":7,"fontWeight":"bold","offset":3,"color":"#000"}
}
}
